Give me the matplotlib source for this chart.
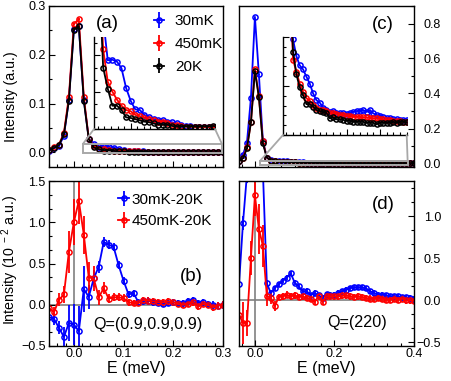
import numpy as np
import matplotlib
matplotlib.use("Agg")
import matplotlib.pyplot as plt
from matplotlib.ticker import MultipleLocator, AutoMinorLocator
from matplotlib.patches import Rectangle, ConnectionPatch

plt.rcParams['font.family'] = ['Liberation Sans', 'DejaVu Sans']
plt.rcParams['mathtext.fontset'] = 'custom'
plt.rcParams['mathtext.rm'] = 'Liberation Sans'
plt.rcParams['mathtext.default'] = 'regular'
plt.rcParams['axes.linewidth'] = 1.0

BLUE = '#0000ff'
RED = '#ff0000'
BLACK = '#000000'
GRAY = '#a8a8a8'

# energy grids (meV)
E_left = np.round(np.arange(-0.05, 0.3001, 0.01), 2)    # panels (a), (b)
E_right = np.round(np.arange(-0.04, 0.4001, 0.01), 2)   # panels (c), (d)

# (a) Q=(0.9,0.9,0.9) raw intensity
a_30mK = [0.003, 0.008, 0.013, 0.034, 0.108, 0.252, 0.258, 0.108, 0.028, 0.018,
          0.0112, 0.0113, 0.0110, 0.0099, 0.0067, 0.0046, 0.0032, 0.0031, 0.0023, 0.0019,
          0.0016, 0.0015, 0.0014, 0.0012, 0.0011, 0.0009, 0.0007, 0.0005, 0.0005, 0.0004,
          0.0004, 0.0004, 0.0003, 0.0003, 0.0003, 0.0003]
a_450mK = [0.004, 0.010, 0.016, 0.040, 0.114, 0.263, 0.273, 0.114, 0.028, 0.0130,
           0.0077, 0.0061, 0.0048, 0.0038, 0.0031, 0.0029, 0.0023, 0.0021, 0.0018, 0.0016,
           0.0014, 0.0012, 0.0012, 0.0010, 0.0007, 0.0006, 0.0005, 0.0004, 0.0004, 0.0003,
           0.0003, 0.0003, 0.0003, 0.0003, 0.0003, 0.0003]
a_20K = [0.004, 0.009, 0.015, 0.037, 0.106, 0.251, 0.259, 0.106, 0.027, 0.0100,
         0.0066, 0.0038, 0.0038, 0.0031, 0.0019, 0.0018, 0.0016, 0.0014, 0.0012, 0.0011,
         0.0009, 0.0007, 0.0007, 0.0007, 0.0005, 0.0004, 0.0004, 0.0004, 0.0004, 0.0004,
         0.0004, 0.0004, 0.0004, 0.0005, 0.0004, 0.0004]
err_top = 0.002

# (c) Q=(220) raw intensity
c_30mK = [0.015, 0.05, 0.12, 0.375, 0.838, 0.509, 0.13, 0.034, 0.0195, 0.0161,
          0.0142, 0.0134, 0.0119, 0.0105, 0.0085, 0.0071, 0.0066, 0.0056, 0.0052, 0.0047,
          0.0049, 0.0045, 0.0045, 0.0044, 0.0043, 0.0044, 0.0047, 0.0049, 0.0049, 0.0051,
          0.0047, 0.0051, 0.0044, 0.0041, 0.0039, 0.0036, 0.0034, 0.0034, 0.0032, 0.0032,
          0.0031, 0.0031, 0.0030, 0.0030, 0.0029]
c_450mK = [0.012, 0.034, 0.092, 0.235, 0.54, 0.383, 0.126, 0.034, 0.0154, 0.0129,
           0.0105, 0.0088, 0.0075, 0.0070, 0.0061, 0.0056, 0.0052, 0.0051, 0.0049, 0.0045,
           0.0044, 0.0043, 0.0041, 0.0041, 0.0039, 0.0039, 0.0037, 0.0037, 0.0037, 0.0036,
           0.0036, 0.0035, 0.0034, 0.0034, 0.0033, 0.0032, 0.0031, 0.0030, 0.0029, 0.0029,
           0.0028, 0.0027, 0.0027, 0.0026, 0.0026]
c_20K = [0.012, 0.03, 0.086, 0.235, 0.528, 0.379, 0.115, 0.034, 0.0170, 0.0124,
         0.0097, 0.0081, 0.0063, 0.0063, 0.0058, 0.0051, 0.0049, 0.0047, 0.0045, 0.0034,
         0.0036, 0.0032, 0.0032, 0.0031, 0.0029, 0.0029, 0.0027, 0.0027, 0.0027, 0.0027,
         0.0025, 0.0025, 0.0025, 0.0022, 0.0025, 0.0025, 0.0025, 0.0025, 0.0027, 0.0025,
         0.0027, 0.0027, 0.0026, 0.0026, 0.0026]

# (b) differences, units of 1e-2
b_30mK = [-0.15, -0.17, -0.28, -0.39, -0.22, -0.24, -0.32, 0.19, 0.095, 0.32,
          0.46, 0.76, 0.73, 0.70, 0.48, 0.29, 0.125, 0.14, 0.03, 0.04,
          0.05, 0.03, 0.02, 0.01, 0.02, 0.03, 0.02, 0.02, 0.04, 0.06,
          0.02, 0.03, 0.01, 0.0, -0.01, 0.0]
b_30mK_err = [0.05, 0.07, 0.08, 0.12, 0.22, 0.25, 0.30, 0.28, 0.15, 0.10,
              0.07, 0.06, 0.05, 0.05, 0.05, 0.05, 0.04, 0.04, 0.04, 0.04,
              0.04, 0.04, 0.04, 0.04, 0.04, 0.04, 0.04, 0.04, 0.04, 0.04,
              0.04, 0.04, 0.04, 0.04, 0.04, 0.04]
b_450mK = [-0.04, -0.09, 0.06, 0.125, 0.64, 1.00, 1.26, 0.85, 0.33, 0.32,
           0.09, 0.20, 0.075, 0.09, 0.09, 0.08, 0.03, 0.02, 0.02, 0.06,
           0.05, 0.04, 0.03, 0.03, 0.04, 0.03, 0.01, 0.0, 0.01, 0.03,
           -0.02, 0.01, 0.0, -0.03, -0.01, 0.0]
b_450mK_err = [0.05, 0.06, 0.08, 0.10, 0.25, 0.28, 0.28, 0.23, 0.19, 0.15,
               0.09, 0.07, 0.05, 0.05, 0.05, 0.05, 0.04, 0.04, 0.04, 0.04,
               0.04, 0.04, 0.04, 0.04, 0.04, 0.04, 0.04, 0.04, 0.04, 0.04,
               0.04, 0.04, 0.04, 0.04, 0.04, 0.04]

# (d) differences, units of 1e-2
d_30mK = [0.19, 0.92, 1.5, 4.0, 5.5, 4.0, 1.55, 0.20, 0.086, 0.145,
          0.19, 0.23, 0.27, 0.32, 0.21, 0.165, 0.105, 0.11, 0.06, 0.086,
          0.06, 0.03, 0.07, 0.067, 0.067, 0.086, 0.106, 0.125, 0.145, 0.153,
          0.153, 0.153, 0.14, 0.106, 0.086, 0.067, 0.067, 0.059, 0.047, 0.047,
          0.047, 0.035, 0.035, 0.027, 0.02]
d_30mK_err = [0.05, 0.08, 0.1, 0.15, 0.2, 0.15, 0.1, 0.04, 0.03, 0.03,
              0.03, 0.03, 0.03, 0.03, 0.03, 0.03, 0.03, 0.03, 0.03, 0.03,
              0.03, 0.03, 0.03, 0.03, 0.03, 0.03, 0.03, 0.03, 0.03, 0.03,
              0.03, 0.03, 0.03, 0.03, 0.03, 0.03, 0.03, 0.03, 0.03, 0.03,
              0.03, 0.03, 0.03, 0.03, 0.03]
d_450mK = [-0.17, -0.27, -0.27, 0.50, 1.25, 0.85, 0.65, 0.05, 0.03, -0.07,
           0.04, 0.047, 0.065, 0.047, 0.058, 0.04, 0.047, 0.027, 0.02, -0.02,
           0.047, -0.02, 0.047, 0.047, 0.047, 0.047, 0.059, 0.059, 0.047, 0.04,
           0.047, 0.04, 0.027, 0.02, 0.02, 0.027, 0.02, 0.008, 0.008, 0.02,
           0.008, 0.02, 0.0, 0.0, -0.004]
d_450mK_err = [0.08, 0.25, 0.15, 0.20, 0.25, 0.30, 0.25, 0.12, 0.08, 0.06,
               0.04, 0.04, 0.04, 0.04, 0.04, 0.04, 0.04, 0.04, 0.04, 0.04,
               0.04, 0.04, 0.04, 0.04, 0.04, 0.04, 0.04, 0.04, 0.04, 0.04,
               0.04, 0.04, 0.04, 0.04, 0.04, 0.04, 0.04, 0.04, 0.04, 0.04,
               0.04, 0.04, 0.04, 0.04, 0.04]

W, H = 451, 381


def box(l, t, r, b):
    return [l / W, (H - b) / H, (r - l) / W, (b - t) / H]


fig = plt.figure(figsize=(W / 100, H / 100), dpi=100)
ax_a = fig.add_axes(box(49, 6, 223, 167))
ax_c = fig.add_axes(box(239, 6, 414, 167))
ax_b = fig.add_axes(box(49, 181, 223, 346))
ax_d = fig.add_axes(box(239, 181, 414, 346))

kw = dict(marker='o', ms=3.7, mfc='none', mew=1.1, lw=1.3, elinewidth=1.3, capsize=0)
lkw = dict(marker='o', ms=3.7, mfc='none', mew=1.1, lw=1.3)
TICK_FS = 9


def ticks(ax, right=False):
    ax.tick_params(which='both', direction='in', top=False, labelsize=TICK_FS, width=0.8)
    ax.tick_params(which='major', length=4)
    ax.tick_params(which='minor', length=2.3)
    if right:
        ax.yaxis.tick_right()
        ax.tick_params(axis='y', which='both', direction='in', pad=19.5)
        for lb in ax.get_yticklabels():
            lb.set_horizontalalignment('right')
    else:
        ax.tick_params(axis='y', pad=2.5)
    ax.tick_params(axis='x', pad=1.5)


# ---- (a)
for y, c, lab in [(a_30mK, BLUE, '30mK'), (a_450mK, RED, '450mK'), (a_20K, BLACK, '20K')]:
    ax_a.errorbar(E_left, y, yerr=err_top, color=c, label=lab, **kw)
ax_a.set_xlim(-0.05, 0.3)
ax_a.set_ylim(-0.03, 0.3)
ax_a.xaxis.set_major_locator(MultipleLocator(0.1))
ax_a.xaxis.set_minor_locator(AutoMinorLocator(6))
ax_a.yaxis.set_major_locator(MultipleLocator(0.1))
ax_a.yaxis.set_minor_locator(AutoMinorLocator(2))
ax_a.set_xticklabels([])
ticks(ax_a)
ax_a.set_ylabel('Intensity (a.u.)', fontsize=10.3)
ax_a.yaxis.set_label_coords(-0.181, 0.435)
ax_a.text(0.333, 0.894, '(a)', transform=ax_a.transAxes, fontsize=13.5, ha='center', va='center')
ax_a.legend(loc='upper left', bbox_to_anchor=(0.548, 1.005), frameon=False, fontsize=11,
            handlelength=0.7, handletextpad=0.7, labelspacing=0.58, borderaxespad=0.2)

ax_ia = fig.add_axes(box(94, 37, 215, 129))
ax_ia.set_facecolor('none')
for y, c in [(a_30mK, BLUE), (a_450mK, RED), (a_20K, BLACK)]:
    ax_ia.plot(E_left, y, color=c, **lkw)
ax_ia.set_xlim(0.02, 0.284)
ax_ia.set_ylim(0.0, 0.015)
ax_ia.xaxis.set_major_locator(MultipleLocator(0.1))
ax_ia.xaxis.set_minor_locator(AutoMinorLocator(7))
ax_ia.yaxis.set_major_locator(MultipleLocator(0.006))
ax_ia.yaxis.set_minor_locator(MultipleLocator(0.002))
for s in ['top', 'right']:
    ax_ia.spines[s].set_visible(False)
ax_ia.tick_params(which='both', direction='in', labelbottom=False, labelleft=False, width=0.8)
ax_ia.tick_params(which='major', length=4)
ax_ia.tick_params(which='minor', length=2.3)

ax_a.add_patch(Rectangle((0.018, -0.002), 0.28, 0.019, fill=False, ec=GRAY, lw=1.4, zorder=5))
for xa, xb in [(0, 0.018), (1, 0.298)]:
    fig.add_artist(ConnectionPatch(xyA=(xa, 0), coordsA=ax_ia.transAxes,
                                   xyB=(xb, 0.017), coordsB=ax_a.transData,
                                   color=GRAY, lw=1.3))

# ---- (c)
for y, c in [(c_30mK, BLUE), (c_450mK, RED), (c_20K, BLACK)]:
    ax_c.errorbar(E_right, y, yerr=err_top, color=c, **kw)
ax_c.set_xlim(-0.04, 0.4)
ax_c.set_ylim(-0.02, 0.9)
ax_c.xaxis.set_major_locator(MultipleLocator(0.2))
ax_c.xaxis.set_minor_locator(AutoMinorLocator(6))
ax_c.yaxis.set_major_locator(MultipleLocator(0.2))
ax_c.yaxis.set_minor_locator(AutoMinorLocator(2))
ax_c.set_xticklabels([])
ticks(ax_c, right=True)
ax_c.text(0.823, 0.882, '(c)', transform=ax_c.transAxes, fontsize=13.5, ha='center', va='center')

ax_ic = fig.add_axes(box(283, 37, 406.7, 135))
ax_ic.set_facecolor('none')
for y, c in [(c_30mK, BLUE), (c_450mK, RED), (c_20K, BLACK)]:
    ax_ic.plot(E_right, y, color=c, **lkw)
ax_ic.set_xlim(0.01, 0.38)
ax_ic.set_ylim(0.0, 0.02)
ax_ic.xaxis.set_major_locator(MultipleLocator(0.1))
ax_ic.xaxis.set_minor_locator(MultipleLocator(0.02))
ax_ic.yaxis.set_major_locator(MultipleLocator(0.01))
ax_ic.yaxis.set_minor_locator(MultipleLocator(0.002))
for s in ['top', 'right']:
    ax_ic.spines[s].set_visible(False)
ax_ic.tick_params(which='both', direction='in', labelbottom=False, labelleft=False, width=0.8)
ax_ic.tick_params(which='major', length=4)
ax_ic.tick_params(which='minor', length=2.3)

ax_c.add_patch(Rectangle((0.013, -0.008), 0.371, 0.023, fill=False, ec=GRAY, lw=1.4, zorder=5))
for xa, xb in [(0, 0.013), (1, 0.384)]:
    fig.add_artist(ConnectionPatch(xyA=(xa, 0), coordsA=ax_ic.transAxes,
                                   xyB=(xb, 0.015), coordsB=ax_c.transData,
                                   color=GRAY, lw=1.3))

# ---- (b)
ax_b.axvline(0, color='0.5', lw=1.2, zorder=0)
ax_b.axhline(0, color='0.5', lw=1.2, zorder=0)
ax_b.errorbar(E_left, b_30mK, yerr=b_30mK_err, color=BLUE, label='30mK-20K', **kw)
ax_b.errorbar(E_left, b_450mK, yerr=b_450mK_err, color=RED, label='450mK-20K', **kw)
ax_b.set_xlim(-0.05, 0.3)
ax_b.set_ylim(-0.5, 1.5)
ax_b.xaxis.set_major_locator(MultipleLocator(0.1))
ax_b.xaxis.set_minor_locator(AutoMinorLocator(6))
ax_b.yaxis.set_major_locator(MultipleLocator(0.5))
ax_b.yaxis.set_minor_locator(AutoMinorLocator(3))
ticks(ax_b)
ax_b.set_xlabel('E (meV)', fontsize=11.5, labelpad=0.5)
ax_b.set_ylabel('Intensity (10$^{\\ -2}$ a.u.)', fontsize=10.3)
ax_b.yaxis.set_label_coords(-0.162, 0.52)
ax_b.text(0.82, 0.424, '(b)', transform=ax_b.transAxes, fontsize=13.5, ha='center', va='center')
ax_b.text(0.569, 0.133, 'Q=(0.9,0.9,0.9)', transform=ax_b.transAxes, fontsize=11.6,
          ha='center', va='center')
ax_b.legend(loc='upper left', bbox_to_anchor=(0.345, 0.985), frameon=False, fontsize=11,
            handlelength=0.7, handletextpad=0.15, labelspacing=0.5, borderaxespad=0.2)

# ---- (d)
ax_d.axvline(0, color='0.5', lw=1.2, zorder=0)
ax_d.axhline(0, color='0.5', lw=1.2, zorder=0)
ax_d.errorbar(E_right, d_30mK, yerr=d_30mK_err, color=BLUE, **kw)
ax_d.errorbar(E_right, d_450mK, yerr=d_450mK_err, color=RED, **kw)
ax_d.set_xlim(-0.04, 0.4)
ax_d.set_ylim(-0.545, 1.42)
ax_d.xaxis.set_major_locator(MultipleLocator(0.2))
ax_d.xaxis.set_minor_locator(AutoMinorLocator(6))
ax_d.yaxis.set_major_locator(MultipleLocator(0.5))
ax_d.yaxis.set_minor_locator(AutoMinorLocator(3))
ticks(ax_d, right=True)
ax_d.set_xlabel('E (meV)', fontsize=11.5, labelpad=0.5)
ax_d.text(0.823, 0.86, '(d)', transform=ax_d.transAxes, fontsize=13.5, ha='center', va='center')
ax_d.text(0.674, 0.145, 'Q=(220)', transform=ax_d.transAxes, fontsize=11.6,
          ha='center', va='center')

fig.savefig('out.png', dpi=100)
